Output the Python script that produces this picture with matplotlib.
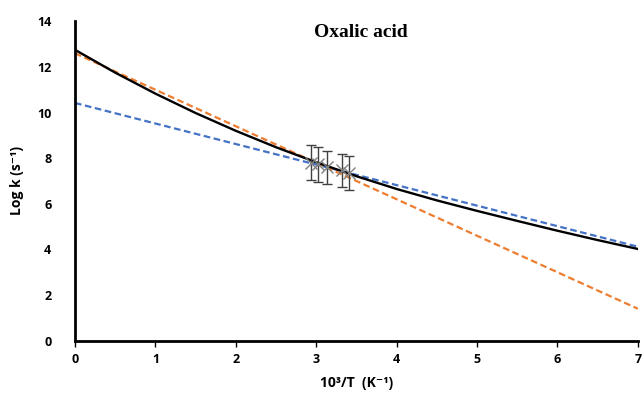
import matplotlib
matplotlib.use('Agg')
import matplotlib.pyplot as plt

# black curve (full model)
curve_x = [0, 0.5, 1, 1.5, 2, 2.5, 3, 3.5, 4, 4.5, 5, 5.5, 6, 6.5, 7]
curve_y = [12.75, 11.75, 10.83, 9.98, 9.2, 8.48, 7.82, 7.21, 6.65, 6.15, 5.69, 5.25, 4.82, 4.41, 4.02]

# linear fits (dashed)
fit_x = [0, 7]
orange_y = [12.6, 1.4]
blue_y = [10.42, 4.12]

# measured points with error bars
pts_x = [2.94, 3.02, 3.13, 3.32, 3.41]
pts_y = [7.8, 7.73, 7.6, 7.47, 7.35]
pts_err = [0.76, 0.78, 0.73, 0.72, 0.75]

plt.rcParams['font.family'] = ['Open Sans', 'DejaVu Sans']

fig = plt.figure(figsize=(6.43, 3.96), dpi=100)
ax = fig.add_axes([0.1166, 0.1397, 0.8754, 0.8065])

ax.plot(fit_x, blue_y, color='#4472C4', lw=1.6, ls=(0, (3, 1.6)), zorder=2)
ax.plot(fit_x, orange_y, color='#ED7D31', lw=1.6, ls=(0, (3, 1.6)), zorder=2)
ax.plot(curve_x, curve_y, color='black', lw=1.7, zorder=3)
ax.errorbar(pts_x, pts_y, yerr=pts_err, fmt='x', color='#808080', ecolor='#404040',
            elinewidth=1.0, capsize=3.5, capthick=1.0, markersize=8, mew=1.0, zorder=4)

ax.set_xlim(0, 7)
ax.set_ylim(0, 14)
ax.set_xticks(range(0, 8))
ax.set_yticks(range(0, 15, 2))

for s in ['top', 'right']:
    ax.spines[s].set_visible(False)
for s in ['left', 'bottom']:
    ax.spines[s].set_linewidth(2)
    ax.spines[s].set_color('black')

ax.tick_params(axis='x', direction='out', length=4, width=1, pad=5, labelsize=9)
ax.tick_params(axis='y', length=0, pad=17, labelsize=9)
for lab in ax.get_xticklabels() + ax.get_yticklabels():
    lab.set_fontweight('bold')

ax.set_ylabel('Log k (s\u207b\u00b9)', fontsize=10, fontweight='bold', labelpad=9)
ax.set_xlabel('10\u00b3/T  (K\u207b\u00b9)', fontsize=10, fontweight='bold', labelpad=7)

ax.text(3.55, 13.5, 'Oxalic acid', fontsize=14, fontweight='bold',
        family='Liberation Serif', ha='center', va='center')

fig.savefig('out.png', dpi=100)
